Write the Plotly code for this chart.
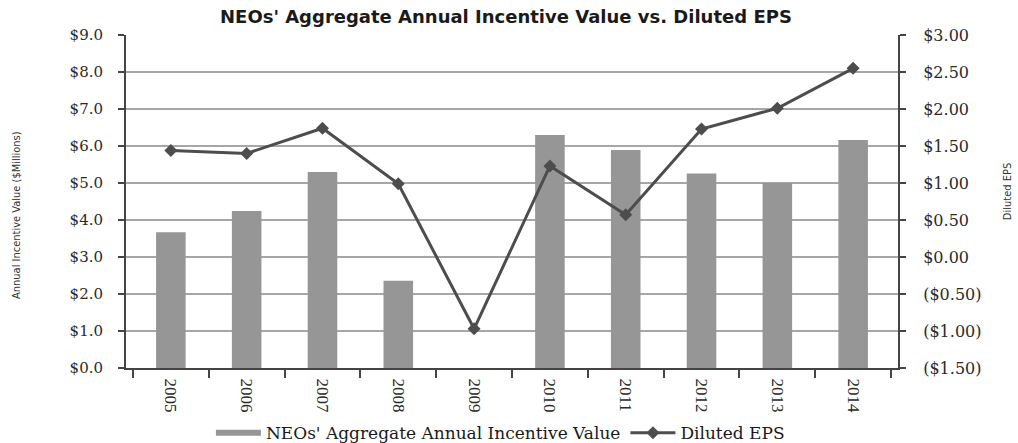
import plotly.graph_objects as go

years = ["2005", "2006", "2007", "2008", "2009", "2010", "2011", "2012", "2013", "2014"]
incentive = [3.67, 4.24, 5.30, 2.36, 0.0, 6.30, 5.89, 5.26, 5.00, 6.16]
eps = [1.44, 1.40, 1.74, 0.99, -0.97, 1.23, 0.57, 1.73, 2.01, 2.55]

left_vals = [0, 1, 2, 3, 4, 5, 6, 7, 8, 9]
left_text = ["$0.0", "$1.0", "$2.0", "$3.0", "$4.0", "$5.0", "$6.0", "$7.0", "$8.0", "$9.0"]
right_vals = [-1.5, -1.0, -0.5, 0.0, 0.5, 1.0, 1.5, 2.0, 2.5, 3.0]
right_text = ["($1.50)", "($1.00)", "($0.50)", "$0.00", "$0.50", "$1.00", "$1.50", "$2.00", "$2.50", "$3.00"]

bar_name = "NEOs' Aggregate Annual Incentive Value"
line_name = "Diluted EPS"

serif = "DejaVu Serif, Liberation Serif, serif"
xserif = "Liberation Serif, Times New Roman, serif"
narrow = "DejaVu Sans Condensed, Liberation Sans Narrow, sans-serif"

bar_color = "#969696"
line_color = "#4d4d4d"
axis_color = "#444444"

fig = go.Figure()
fig.add_trace(go.Bar(
    x=years, y=incentive, name=bar_name, showlegend=False,
    marker=dict(color=bar_color, line=dict(width=0)), yaxis="y"))
# legend-only entry drawn as a thick bar-coloured stroke, like the original legend swatch
fig.add_trace(go.Scatter(
    x=[None], y=[None], name=bar_name, mode="lines",
    line=dict(color=bar_color, width=6), yaxis="y"))
fig.add_trace(go.Scatter(
    x=years, y=eps, name=line_name, mode="lines+markers",
    line=dict(color=line_color, width=3),
    marker=dict(symbol="diamond", size=10, color=line_color), yaxis="y2"))

fig.update_layout(
    width=1018, height=443,
    margin=dict(l=126, r=120, t=35, b=75, autoexpand=False),
    paper_bgcolor="white", plot_bgcolor="white",
    bargap=0.61,
    showlegend=True,
    title=dict(text="<b>NEOs' Aggregate Annual Incentive Value vs. Diluted EPS</b>",
               x=0.497, xanchor="center", y=0.962, yanchor="middle",
               font=dict(family="DejaVu Sans, Verdana, sans-serif", size=18, color="#1a1a1a")),
    legend=dict(orientation="h", x=0.485, xanchor="center", y=-0.196, yanchor="middle",
                font=dict(family=serif, size=17, color="#1a1a1a"),
                bgcolor="rgba(0,0,0,0)", itemwidth=45, tracegroupgap=0),
    xaxis=dict(
        type="category", tickangle=90, automargin=False,
        tickfont=dict(family=xserif, size=17, color="#2a2a2a"),
        showline=True, linecolor=axis_color, linewidth=2,
        ticks="outside", tickson="boundaries", ticklen=8, tickwidth=2, tickcolor=axis_color,
        ticklabelstandoff=5, showgrid=False),
    yaxis=dict(
        range=[0, 9], tickvals=left_vals, ticktext=left_text, automargin=False,
        tickfont=dict(family=serif, size=15, color="#2a2a2a"),
        showline=True, linecolor=axis_color, linewidth=2,
        ticks="outside", ticklen=6, tickwidth=2, tickcolor=axis_color,
        ticklabelstandoff=12,
        showgrid=True, gridcolor="#a6a6a6", gridwidth=2, zeroline=False),
    yaxis2=dict(
        range=[-1.5, 3.0], tickvals=right_vals, ticktext=right_text,
        overlaying="y", side="right", automargin=False,
        tickfont=dict(family=serif, size=16, color="#2a2a2a"),
        showline=True, linecolor=axis_color, linewidth=2,
        ticks="outside", ticklen=6, tickwidth=2, tickcolor=axis_color,
        ticklabelstandoff=14,
        showgrid=False, zeroline=False),
    annotations=[
        dict(text="Annual Incentive Value ($Millions)", xref="paper", yref="paper",
             x=-0.141, y=0.46, xanchor="center", yanchor="middle", textangle=-90,
             showarrow=False, font=dict(family=narrow, size=11, color="#333333")),
        dict(text="Diluted EPS", xref="paper", yref="paper",
             x=1.142, y=0.53, xanchor="center", yanchor="middle", textangle=-90,
             showarrow=False, font=dict(family=narrow, size=11, color="#333333")),
    ],
)

fig.write_html(
    "out.html",
    config={"displayModeBar": False},
    post_script="document.body.style.margin='0';document.body.style.overflow='hidden';",
)
